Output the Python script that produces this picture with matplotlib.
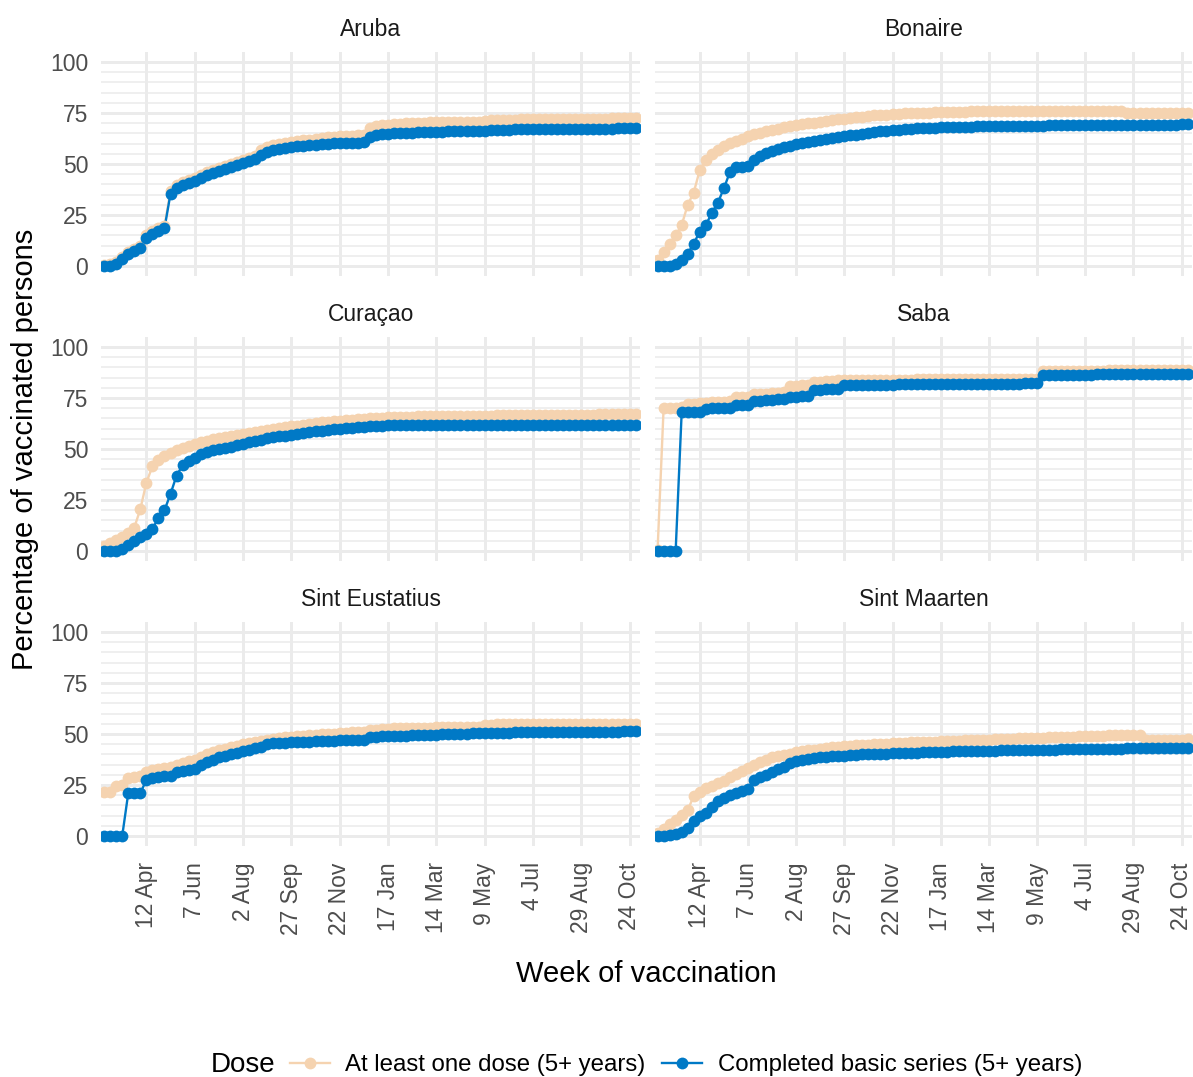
import numpy as np
import pandas as pd
import matplotlib
matplotlib.use("Agg")
import matplotlib.pyplot as plt
import matplotlib.dates as mdates
from matplotlib.lines import Line2D

plt.rcParams['font.family'] = ['Liberation Sans', 'DejaVu Sans']

# ---- data -------------------------------------------------------------
weeks = pd.date_range('2021-02-22', periods=89, freq='7D')
tick_dates = pd.date_range('2021-04-12', periods=11, freq='56D')
tick_labels = ["12 Apr", "7 Jun", "2 Aug", "27 Sep", "22 Nov", "17 Jan",
               "14 Mar", "9 May", "4 Jul", "29 Aug", "24 Oct"]

islands = ["Aruba", "Bonaire", "Curaçao", "Saba", "Sint Eustatius", "Sint Maarten"]
doses = ["At least one dose (5+ years)", "Completed basic series (5+ years)"]

aruba_one = [0.5, 1, 2, 4.5, 7, 8.5, 10, 15, 17, 18.5,
             19.5, 37, 39.5, 41, 42, 43, 44.5, 46, 47, 48,
             49, 50, 51, 52, 53, 54, 57, 58.5, 59.5, 60,
             60.5, 61, 61.3, 61.6, 62, 62.3, 62.6, 63, 63.2, 63.5,
             63.7, 63.9, 64.1, 64.3, 67.5, 68.5, 69, 69.3, 69.6, 69.8,
             70, 70.1, 70.2, 70.3, 70.4, 70.5, 70.5, 70.6, 70.6, 70.7,
             70.7, 70.8, 70.8, 70.9, 71.6, 71.7, 71.7, 71.8, 71.8, 71.9,
             71.9, 72, 72, 72, 72.1, 72.1, 72.1, 72.2, 72.2, 72.2,
             72.3, 72.3, 72.3, 72.3, 72.4, 72.4, 72.4, 72.4, 72.4]
aruba_full = [0, 0, 1, 3.5, 6, 7.5, 9, 13.5, 15.5, 17,
              18.5, 35.5, 38, 39.5, 40.5, 41.5, 43, 44.5, 45.5, 46.5,
              47.5, 48.5, 49.5, 50.5, 51.5, 52.5, 54.5, 56, 57, 57.5,
              58, 58.3, 58.6, 58.9, 59.2, 59.5, 59.7, 59.9, 60.1, 60.2,
              60.3, 60.4, 60.5, 60.6, 63, 64, 64.5, 64.8, 65, 65.2,
              65.3, 65.4, 65.5, 65.6, 65.7, 65.8, 65.9, 66, 66, 66.1,
              66.1, 66.2, 66.2, 66.3, 66.8, 66.8, 66.9, 66.9, 67, 67,
              67, 67.1, 67.1, 67.1, 67.2, 67.2, 67.2, 67.3, 67.3, 67.3,
              67.3, 67.4, 67.4, 67.4, 67.4, 67.5, 67.5, 67.5, 67.5]

bonaire_one = [3, 7, 11, 15, 20, 30, 36, 47, 52, 55,
               57, 58.8, 60.2, 61.5, 62.5, 63.5, 64.5, 65.3, 66, 66.7,
               67.3, 67.9, 68.4, 68.9, 69.4, 69.9, 70.3, 70.7, 71.1, 71.5,
               71.9, 72.3, 72.6, 72.9, 73.2, 73.5, 73.8, 74, 74.2, 74.4,
               74.6, 74.8, 74.9, 75, 75.1, 75.2, 75.3, 75.4, 75.5, 75.6,
               75.7, 75.7, 75.8, 75.8, 75.9, 75.9, 76, 76, 76, 76,
               76, 76, 76, 76, 76, 76, 76, 76, 76, 76,
               76, 76, 76, 76, 76, 76, 76, 76, 74.8, 74.8,
               74.8, 74.8, 74.8, 74.8, 74.8, 74.8, 74.8, 74.8, 74.8]
bonaire_full = [0, 0, 0, 0.8, 3, 6, 11, 16.8, 20, 26,
                31, 38, 46, 48.5, 48.7, 49, 52, 54, 55.3, 56.3,
                57.2, 58.1, 59, 59.7, 60.3, 60.9, 61.4, 61.9, 62.4, 62.8,
                63.2, 63.6, 64, 64.4, 64.8, 65.2, 65.6, 66, 66.3, 66.6,
                66.9, 67.1, 67.3, 67.5, 67.6, 67.7, 67.8, 67.9, 68, 68.1,
                68.2, 68.3, 68.3, 68.4, 68.4, 68.5, 68.5, 68.6, 68.6, 68.7,
                68.7, 68.7, 68.8, 68.8, 68.8, 68.9, 68.9, 68.9, 69, 69,
                69, 69, 69.1, 69.1, 69.1, 69.1, 69.2, 69.2, 69.2, 69.2,
                69.2, 69.3, 69.3, 69.3, 69.3, 69.3, 69.3, 69.4, 69.4]

curacao_one = [2.5, 4, 5.5, 7, 9, 11.5, 20.5, 33.5, 41.5, 44.5,
               46.5, 48, 49.5, 50.5, 51.5, 52.5, 53.3, 54, 54.7, 55.3,
               55.9, 56.5, 57, 57.5, 58, 58.5, 59, 59.5, 59.9, 60.3,
               60.7, 61.1, 61.5, 61.9, 62.3, 62.7, 63, 63.3, 63.6, 63.9,
               64.2, 64.4, 64.6, 64.8, 65, 65.2, 65.4, 65.5, 65.6, 65.7,
               65.8, 65.9, 66, 66, 66.1, 66.1, 66.2, 66.2, 66.2, 66.3,
               66.3, 66.3, 66.4, 66.4, 66.4, 66.5, 66.5, 66.5, 66.5, 66.6,
               66.6, 66.6, 66.6, 66.7, 66.7, 66.7, 66.7, 66.8, 66.8, 66.8,
               66.8, 66.8, 67.2, 67.3, 67.3, 67.3, 67.4, 67.4, 67.4]
curacao_full = [0, 0, 0, 1, 3, 5, 7, 8.5, 11, 16,
                20, 28, 37, 42, 44, 45.5, 47.5, 48.5, 49.5, 50,
                50.5, 51.2, 51.9, 52.6, 53.3, 54, 54.6, 55.2, 55.7, 56.2,
                56.6, 57, 57.4, 57.8, 58.2, 58.6, 59, 59.3, 59.6, 59.9,
                60.2, 60.5, 60.8, 61, 61.2, 61.4, 61.5, 61.6, 61.7, 61.7,
                61.7, 61.8, 61.8, 61.8, 61.8, 61.9, 61.9, 61.9, 61.9, 61.9,
                61.9, 61.9, 61.9, 61.9, 61.9, 61.9, 61.9, 61.9, 61.9, 61.9,
                61.9, 61.8, 61.8, 61.8, 61.8, 61.8, 61.8, 61.8, 61.8, 61.7,
                61.7, 61.7, 61.7, 61.7, 61.7, 61.6, 61.6, 61.6, 61.6]

saba_one = [0.5, 70, 70, 70, 70.5, 72, 72.3, 72.5, 72.7, 72.9,
            73, 73.2, 73.4, 75.3, 75.5, 75.7, 76.8, 77, 77.2, 77.4,
            77.6, 77.8, 80.8, 81, 81.2, 81.4, 82.8, 83, 83.2, 83.4,
            83.6, 83.8, 83.8, 83.8, 83.9, 83.9, 83.9, 83.9, 84, 84,
            84, 84, 84, 84.1, 84.1, 84.1, 84.1, 84.2, 84.2, 84.2,
            84.2, 84.3, 84.3, 84.3, 84.3, 84.4, 84.4, 84.4, 84.4, 84.4,
            84.5, 84.5, 84.5, 84.5, 88.2, 88.2, 88.3, 88.3, 88.3, 88.3,
            88.4, 88.4, 88.4, 88.4, 88.4, 88.5, 88.5, 88.5, 88.5, 88.5,
            88.5, 88.6, 88.6, 88.6, 88.6, 88.6, 88.6, 88.6, 88.6]
saba_full = [0, 0, 0, 0, 68, 68, 68, 68.2, 69.8, 70,
             70, 70.2, 70.3, 71.5, 71.6, 71.7, 73.5, 73.7, 74, 74.2,
             74.4, 74.6, 75.5, 75.6, 75.8, 76, 78.8, 79, 79.2, 79.4,
             79.6, 81.3, 81.4, 81.4, 81.5, 81.5, 81.5, 81.6, 81.6, 81.6,
             81.7, 81.7, 81.7, 81.7, 81.8, 81.8, 81.8, 81.8, 81.9, 81.9,
             81.9, 81.9, 82, 82, 82, 82, 82, 82.1, 82.1, 82.1,
             82.1, 82.2, 82.2, 82.2, 86.3, 86.3, 86.3, 86.3, 86.3, 86.3,
             86.3, 86.3, 86.3, 87, 87, 87, 87, 87, 87, 87,
             87, 87, 87, 87, 87, 87, 87, 87, 87]

eustatius_one = [21.7, 21.8, 24.5, 25, 28.5, 29, 29.2, 31.5, 32.5, 33,
                 33.5, 34, 35, 36, 37, 37.5, 38.5, 40, 41, 42,
                 42.8, 43.5, 44.2, 45, 45.7, 46.3, 46.8, 47.3, 47.7, 48,
                 48.3, 48.6, 48.9, 49.2, 49.4, 49.6, 49.8, 50, 50.2, 50.4,
                 50.6, 50.8, 51, 51.2, 52, 52.2, 52.4, 52.6, 52.7, 52.8,
                 52.9, 53, 53, 53.1, 53.1, 53.2, 53.2, 53.3, 53.3, 53.4,
                 53.4, 53.5, 53.5, 54.6, 54.6, 54.7, 54.7, 54.7, 54.8, 54.8,
                 54.8, 54.8, 54.9, 54.9, 54.9, 54.9, 54.9, 55, 55, 55,
                 55, 55, 55, 55, 55, 55.1, 55.1, 55.1, 55.1]
eustatius_full = [0, 0, 0, 0, 21, 21, 21, 27.5, 28.5, 29,
                  29.3, 29.6, 31.5, 32, 32.5, 33, 35, 36.5, 37.5, 38.5,
                  39.2, 40, 40.8, 41.5, 42.2, 43, 43.8, 45, 45.4, 45.6,
                  45.8, 46, 46.1, 46.2, 46.3, 46.5, 46.6, 46.7, 46.8, 46.9,
                  47, 47.1, 47.2, 47.3, 48.5, 48.7, 48.8, 48.9, 49, 49.1,
                  49.2, 49.3, 49.4, 49.5, 49.6, 49.7, 49.8, 49.9, 50, 50.1,
                  50.2, 50.3, 50.4, 50.5, 50.6, 50.6, 50.7, 50.7, 50.8, 50.8,
                  50.9, 50.9, 50.9, 51, 51, 51, 51, 51.1, 51.1, 51.1,
                  51.1, 51.2, 51.2, 51.2, 51.2, 51.2, 51.3, 51.3, 51.3]

maarten_one = [1.5, 3.5, 6, 8, 10.5, 12.7, 19.5, 21.5, 23.4, 24.5,
               25.8, 27, 28.8, 30.5, 32, 33.5, 35, 36.3, 37.5, 38.5,
               39.2, 39.8, 40.4, 41, 41.5, 42, 42.4, 42.8, 43.1, 43.4,
               43.7, 44, 44.2, 44.4, 44.6, 44.8, 45, 45.2, 45.3, 45.5,
               45.6, 45.8, 45.9, 46, 46.1, 46.2, 46.3, 46.5, 46.6, 46.7,
               46.8, 46.9, 47, 47.1, 47.2, 47.3, 47.4, 47.5, 47.6, 47.7,
               47.8, 47.9, 48, 48.1, 48.2, 48.3, 48.4, 48.5, 48.6, 48.7,
               48.8, 48.9, 49, 49.1, 49.2, 49.3, 49.4, 49.4, 49.5, 49.5,
               49.5, 47, 47.1, 47.1, 47.2, 47.2, 47.3, 47.3, 47.4]
maarten_full = [0, 0, 0.5, 1, 2, 4, 7.5, 10, 11.1, 14,
                17, 18.5, 20, 21, 22, 23, 27.5, 29, 30, 31.5,
                32.8, 34, 36, 37, 37.5, 37.9, 38.2, 38.5, 38.8, 39,
                39.2, 39.4, 39.6, 39.8, 40, 40.1, 40.2, 40.3, 40.4, 40.5,
                40.6, 40.7, 40.8, 40.9, 41, 41.1, 41.2, 41.3, 41.4, 41.5,
                41.5, 41.6, 41.7, 41.7, 41.8, 41.9, 41.9, 42, 42, 42.1,
                42.1, 42.2, 42.2, 42.3, 42.3, 42.4, 42.4, 42.5, 42.5, 42.6,
                42.6, 42.6, 42.7, 42.7, 42.7, 42.8, 42.8, 42.8, 42.9, 42.9,
                42.9, 43, 43, 43, 43, 43.1, 43.1, 43.1, 43.1]

series = {
    "Aruba": (aruba_one, aruba_full),
    "Bonaire": (bonaire_one, bonaire_full),
    "Curaçao": (curacao_one, curacao_full),
    "Saba": (saba_one, saba_full),
    "Sint Eustatius": (eustatius_one, eustatius_full),
    "Sint Maarten": (maarten_one, maarten_full),
}

# ---- style ------------------------------------------------------------
PEACH = "#F5D3B0"
BLUE = "#0079C6"
GRID = "#EBEBEB"
TICK_COL = "#4D4D4D"
STRIP_COL = "#1A1A1A"
colors = [PEACH, BLUE]
MS = 8.5
LW = 1.7

W, H = 1193, 1077
fig = plt.figure(figsize=(W / 100, H / 100), dpi=100)

cols_px = [(101.5, 640.0), (655.0, 1192.0)]
rows_px = [(51.8, 276.2), (336.8, 561.2), (621.8, 846.2)]

x_lo = weeks[0] - pd.Timedelta(days=3)
x_hi = weeks[-1] + pd.Timedelta(days=5)

for k, name in enumerate(islands):
    r, c = divmod(k, 2)
    x0, x1 = cols_px[c]
    y0, y1 = rows_px[r]
    ax = fig.add_axes([x0 / W, 1 - y1 / H, (x1 - x0) / W, (y1 - y0) / H])
    ax.set_xlim(x_lo, x_hi)
    ax.set_ylim(-5, 105)
    for s in ax.spines.values():
        s.set_visible(False)

    ax.set_yticks([0, 25, 50, 75, 100])
    ax.set_yticks([v for v in range(5, 100, 5) if v % 25 != 0], minor=True)
    ax.set_xticks(tick_dates)
    ax.grid(which='major', color=GRID, lw=2.1, zorder=0)
    ax.grid(which='minor', axis='y', color=GRID, lw=1.1, zorder=0)
    ax.set_axisbelow(True)
    ax.tick_params(which='both', length=0)

    if c == 0:
        ax.set_yticklabels(["0", "25", "50", "75", "100"])
        ax.tick_params(axis='y', labelsize=16.5, labelcolor=TICK_COL, pad=9.5)
    else:
        ax.set_yticklabels([])
    if r == 2:
        ax.set_xticklabels(tick_labels, rotation=90)
        ax.tick_params(axis='x', labelsize=16.5, labelcolor=TICK_COL, pad=11.5)
    else:
        ax.set_xticklabels([])

    vals = series[name]
    for j in range(2):
        ax.plot(weeks, vals[j], color=colors[j], lw=LW, zorder=2 + j,
                solid_capstyle='butt')
    for j in range(2):
        ax.plot(weeks, vals[j], linestyle='none', marker='o', ms=MS,
                mew=0, color=colors[j], zorder=4 + j)

    ax.text(0.5, 1 + 22.3 / (y1 - y0), name, transform=ax.transAxes,
            ha='center', va='center', fontsize=16.5, color=STRIP_COL)

fig.text(646.75 / W, 1 - 974 / H, "Week of vaccination", ha='center',
         va='center', fontsize=21)
fig.text(25 / W, 1 - 449 / H, "Percentage of vaccinated persons",
         ha='center', va='center', rotation=90, fontsize=21)

# ---- legend -----------------------------------------------------------
leg_y = 1 - 1065 / H
fig.text(211 / W, leg_y, "Dose", ha='left', va='center', fontsize=20)
handles = [Line2D([], [], color=colors[j], lw=LW, marker='o', ms=MS, mew=0)
           for j in range(2)]
fig.legend(handles, doses, loc='center left', bbox_to_anchor=(290 / W, leg_y),
           ncol=2, frameon=False, fontsize=17.3, handlelength=1.65,
           handletextpad=0.65, columnspacing=0.7, borderpad=0,
           borderaxespad=0)

fig.savefig("out.png", dpi=100)
